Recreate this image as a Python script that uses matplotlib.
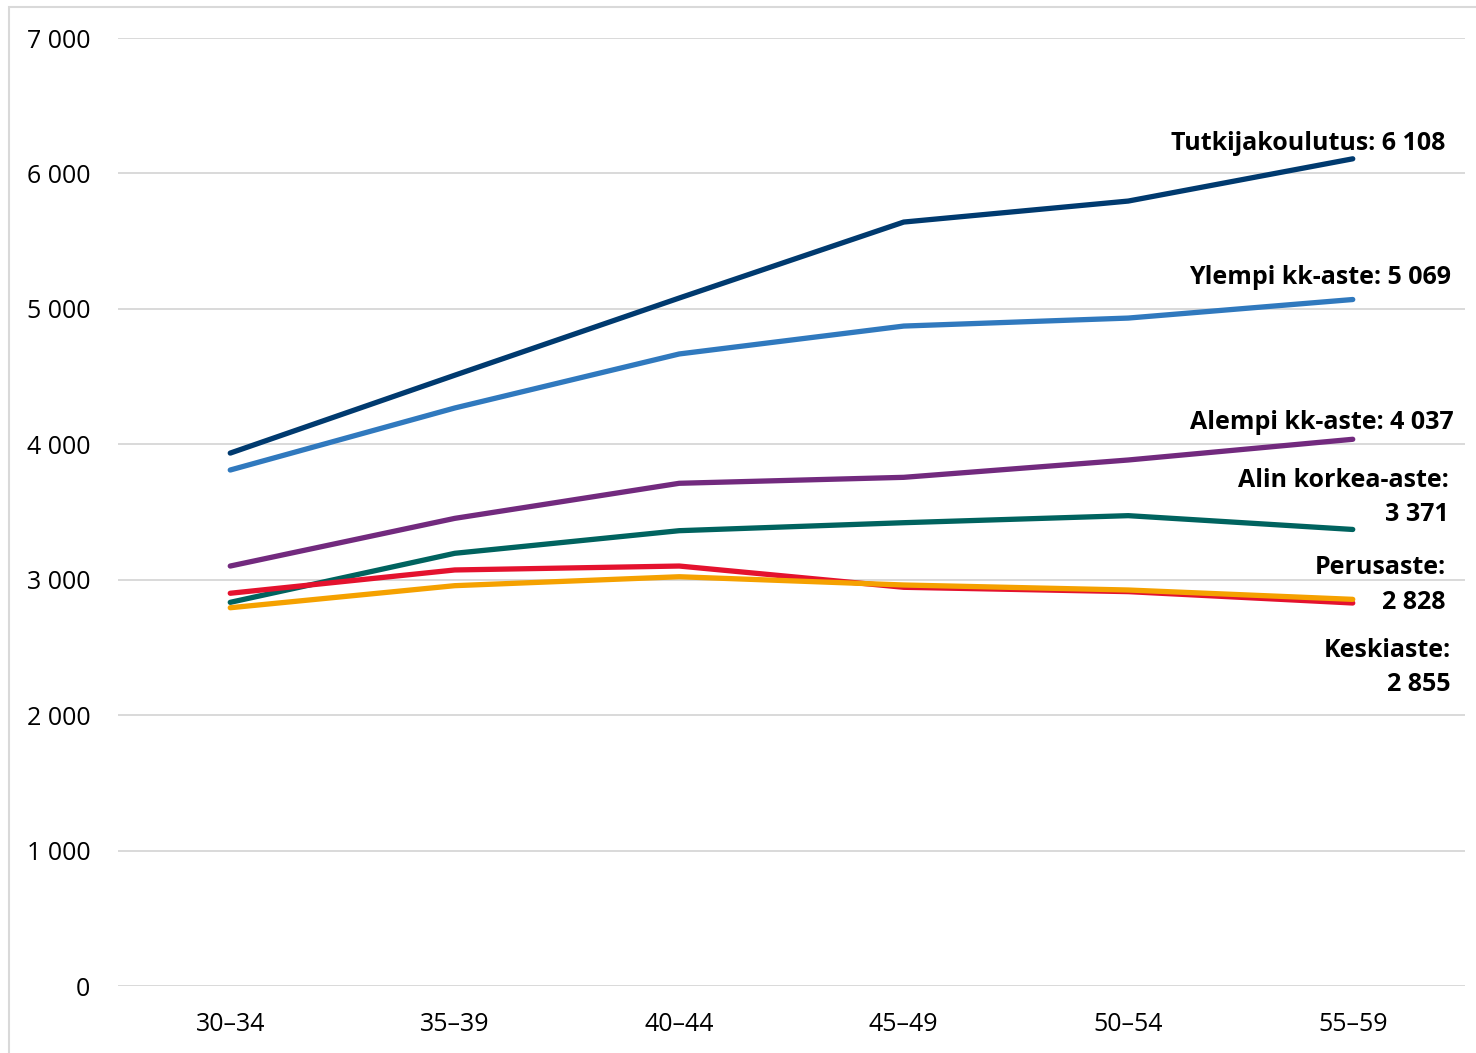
import matplotlib.pyplot as plt
import matplotlib.ticker as mticker
from matplotlib.patches import Rectangle

plt.rcParams['font.family'] = ['Open Sans', 'DejaVu Sans']

# age groups
ages = ["30–34", "35–39", "40–44", "45–49", "50–54", "55–59"]

# series values
tutkijakoulutus = [3935, 4510, 5080, 5641, 5796, 6108]
ylempi_kk = [3810, 4268, 4667, 4873, 4932, 5069]
alempi_kk = [3101, 3453, 3712, 3756, 3884, 4037]
alin_korkea = [2833, 3195, 3362, 3421, 3473, 3371]
perusaste = [2900, 3072, 3101, 2944, 2912, 2828]
keskiaste = [2793, 2956, 3022, 2961, 2924, 2855]

series = [
    ("Tutkijakoulutus: 6 108", tutkijakoulutus, "#003A6F", (93, 15)),
    ("Ylempi kk-aste: 5 069", ylempi_kk, "#3079BE", (98, 22)),
    ("Alempi kk-aste: 4 037", alempi_kk, "#722A7E", (101, 17)),
    ("Alin korkea-aste:\n3 371", alin_korkea, "#00635F", (96, 32)),
    ("Perusaste:\n2 828", perusaste, "#E4122E", (93, 18)),
    ("Keskiaste:\n2 855", keskiaste, "#F5A100", (98, -68)),
]

fig = plt.figure(figsize=(14.76, 10.53), dpi=100)
ax = fig.add_axes([118 / 1476, 1 - 986 / 1053, (1465 - 118) / 1476, (986 - 38) / 1053])

x = list(range(len(ages)))
for label, vals, col, off in series:
    ax.plot(x, vals, color=col, lw=3.8, solid_capstyle='round', solid_joinstyle='round', zorder=3)
    ax.annotate(label, xy=(x[-1], vals[-1]), xytext=off, textcoords='offset pixels',
                ha='right', va='center', multialignment='right', fontsize=18,
                fontweight='bold', color='black', linespacing=1.5)

ax.set_xlim(-0.5, 5.5)
ax.set_ylim(0, 7000)
ax.set_xticks(x)
ax.set_xticklabels(ages)
ax.yaxis.set_major_locator(mticker.MultipleLocator(1000))
ax.yaxis.set_major_formatter(mticker.FuncFormatter(lambda v, p: f"{int(v):,}".replace(",", " ")))
ax.grid(axis='y', color='#d9d9d9', lw=1.4)
ax.set_axisbelow(True)
for s in ax.spines.values():
    s.set_visible(False)
ax.tick_params(axis='both', length=0, labelsize=18, colors='black')
ax.tick_params(axis='y', pad=20)
ax.tick_params(axis='x', pad=19)

# outer frame, only top and left edge visible
fig.patches.append(Rectangle((9 / 1476, -0.1), 1.2, 1.1 - 7 / 1053, transform=fig.transFigure,
                             fill=False, edgecolor='#d9d9d9', lw=1.5))

fig.savefig("out.png", dpi=100)
